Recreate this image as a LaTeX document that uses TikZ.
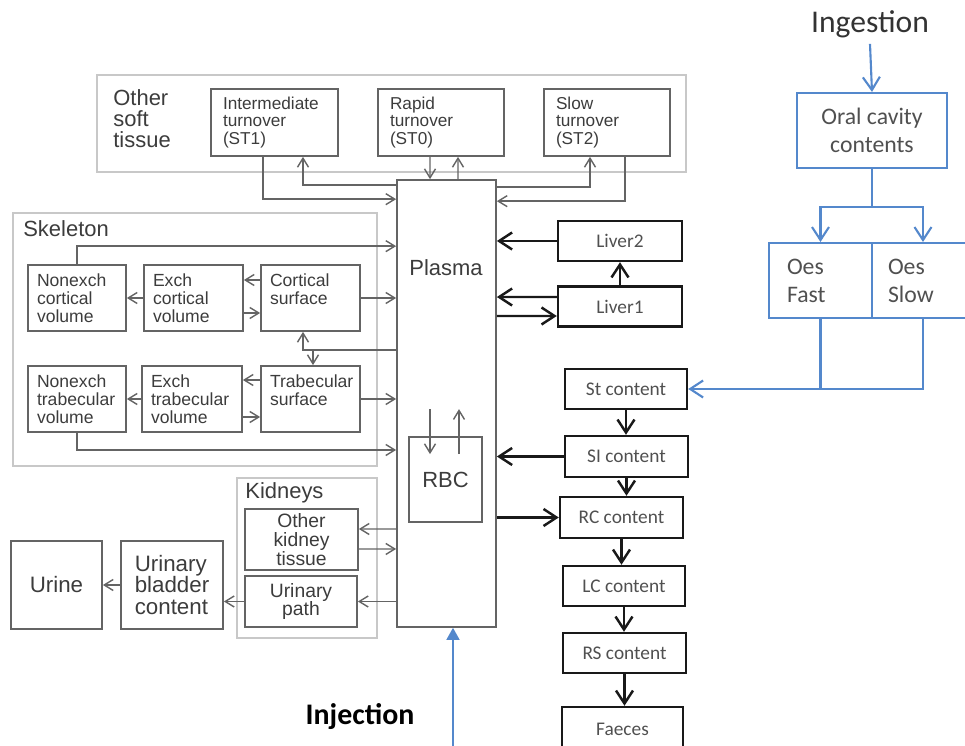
\documentclass[tikz,border=0pt]{standalone}
\usepackage{fontspec}
\setmainfont{Liberation Sans}
\newfontfamily\calibrifont{Carlito}
\usepackage{xcolor}
\usetikzlibrary{arrows.meta}

\definecolor{boxgray}{RGB}{100,100,100}
\definecolor{grpgray}{RGB}{200,200,200}
\definecolor{txtgray}{RGB}{60,60,60}
\definecolor{calgray}{RGB}{80,80,80}
\definecolor{oralblue}{RGB}{84,136,204}

\begin{document}
\begin{tikzpicture}[x=0.02cm, y=-0.02cm,
    lbox/.style={draw=boxgray, line width=1pt, text=txtgray, inner sep=0pt},
    ltext/.style={text=txtgray, inner sep=0pt, font=\fontsize{12.5}{12}\selectfont},
    stbox/.style={lbox, minimum height=1.34cm, inner xsep=0.24cm, align=left, font=\fontsize{9.8}{10}\selectfont},
    bonebox/.style={lbox, minimum height=1.32cm, inner xsep=0.18cm, align=left, font=\fontsize{10}{10.4}\selectfont},
    grp/.style={draw=grpgray, line width=1.2pt},
    grptitle/.style={ltext, anchor=west, align=left},
    kbox/.style={lbox, align=center, font=\fontsize{11}{10.8}\selectfont},
    ubox/.style={lbox, align=left, font=\fontsize{12.7}{12.5}\selectfont, minimum height=1.76cm},
    gbox/.style={draw=black!90, line width=1.4pt, text=calgray, minimum height=0.8cm,
      font=\calibrifont\fontsize{11}{13}\selectfont},
    obox/.style={draw=oralblue, line width=1.2pt, text=calgray, minimum height=1.5cm,
      font=\calibrifont\fontsize{13.5}{16}\selectfont},
    larr/.style={draw=boxgray, line width=0.8pt, -{Straight Barb[length=1.8mm, width=2.2mm]}},
    barr/.style={draw=black!90, line width=1.4pt, -{Straight Barb[length=2.6mm, width=3.4mm]}},
    bline/.style={draw=oralblue, line width=1.2pt},
    blarr/.style={bline, -{Straight Barb[length=2.6mm, width=3.4mm]}},
    injarr/.style={bline, line width=0.9pt, -{Triangle[length=2.4mm, width=2.6mm]}}
  ]
  \useasboundingbox (0,0) rectangle (965,746);
  \clip (0,0) rectangle (965,746);

  % Other soft tissue
  \draw[grp] (97,75) rectangle (686,172);
  \node[grptitle] (osttitle) at (113,119) {Other\\soft\\tissue};
  \node[stbox, text width=2.06cm] (st1) at (274.5,122.5) {Intermediate\\turnover\\(ST1)};
  \node[stbox, text width=2.04cm] (st0) at (441,122.5) {Rapid\\turnover\\(ST0)};
  \node[stbox, text width=2.04cm] (st2) at (607,122.5) {Slow\\turnover\\(ST2)};

  % Plasma and RBC
  \node[lbox, minimum width=1.98cm, minimum height=8.94cm] (plasma) at (446.5,403.5) {};
  \node[ltext] (plasmalbl) at (446,268) {Plasma};
  \node[lbox, minimum width=1.46cm, minimum height=1.7cm, font=\fontsize{12.5}{12}\selectfont] (rbc) at (445.5,479.5) {RBC};

  % Skeleton
  \draw[grp] (13,213) rectangle (377,466);
  \node[grptitle] (skeltitle) at (23,229) {Skeleton};
  \node[bonebox, text width=1.60cm] (ncv) at (77,298) {Nonexch\\cortical\\volume};
  \node[bonebox, text width=1.62cm] (ecv) at (193.5,298) {Exch\\cortical\\volume};
  \node[bonebox, text width=1.62cm] (cs) at (310.5,298) {Cortical\\surface\\\mbox{}};
  \node[bonebox, text width=1.60cm] (ntv) at (77,399) {Nonexch\\trabecular\\volume};
  \node[bonebox, text width=1.64cm] (etv) at (192,399) {Exch\\trabecular\\volume};
  \node[bonebox, text width=1.62cm] (ts) at (310.5,399) {Trabecular\\surface\\\mbox{}};
  \coordinate (bonejn) at (313,350);

  % Kidneys and urine
  \draw[grp] (237,478) rectangle (377,638);
  \node[grptitle] (kidtitle) at (245,493) {Kidneys};
  \node[kbox, minimum width=2.26cm, minimum height=1.22cm] (okt) at (301.5,539.5) {Other\\kidney\\tissue};
  \node[kbox, minimum width=2.24cm, minimum height=1.02cm] (up) at (301,601.5) {Urinary\\path};
  \node[ubox, minimum width=2.04cm] (ubc) at (172,585) {Urinary\\bladder\\content};
  \node[ubox, minimum width=1.82cm] (urine) at (56.5,585) {Urine};

  % Liver
  \node[gbox, minimum width=2.48cm] (liver2) at (620,241) {Liver2};
  \node[gbox, minimum width=2.48cm] (liver1) at (620,306.5) {Liver1};

  % GI tract
  \node[gbox, minimum width=2.44cm] (stc) at (626,389) {St content};
  \node[gbox, minimum width=2.46cm, minimum height=0.82cm] (sic) at (626.5,456.5) {SI content};
  \node[gbox, minimum width=2.46cm, minimum height=0.82cm] (rcc) at (621.5,517.5) {RC content};
  \node[gbox, minimum width=2.44cm] (lcc) at (624,586) {LC content};
  \node[gbox, minimum width=2.46cm] (rsc) at (624.5,653) {RS content};
  \node[gbox, minimum width=2.42cm, minimum height=0.9cm] (faeces) at (622.5,729.5) {Faeces};

  % Ingestion route
  \node[text=black!80, font=\calibrifont\fontsize{18}{20}\selectfont] (ingest) at (870,24) {Ingestion};
  \node[obox, minimum width=3cm, align=center] (oral) at (872,130.5) {Oral cavity\\contents};
  \node[obox, text width=1.34cm, inner xsep=0.36cm, align=left] (oesf) at (820.5,280.5) {Oes\\Fast};
  \node[obox, text width=1.4cm, inner xsep=0.32cm, align=left] (oess) at (923,280.5) {Oes\\Slow};
  \coordinate (oraljn) at (872,207);

  % Injection
  \node[text=black, font=\calibrifont\bfseries\fontsize{17}{20}\selectfont] (inject) at (360,717) {Injection};
  \coordinate (injsrc) at (453,752);

  % Soft tissue exchange
  \draw[larr] ([xshift=-0.23cm]st1.south) |- ([yshift=-0.4cm]plasma.north west);
  \draw[larr] ([yshift=-0.12cm]plasma.north west) -| ([xshift=0.57cm]st1.south);
  \draw[larr] ([xshift=-0.22cm]st0.south) -- ([xshift=-0.33cm]plasma.north);
  \draw[larr] ([xshift=0.23cm]plasma.north) -- ([xshift=0.34cm]st0.south);
  \draw[larr] ([yshift=-0.16cm]plasma.north east) -| ([xshift=-0.34cm]st2.south);
  \draw[larr] ([xshift=0.36cm]st2.south) |- ([yshift=-0.44cm]plasma.north east);

  % Plasma <-> RBC
  \draw[larr] ([xshift=-0.31cm, yshift=0.54cm]rbc.north) -- ([xshift=-0.31cm, yshift=-0.36cm]rbc.north);
  \draw[larr] ([xshift=0.27cm, yshift=-0.36cm]rbc.north) -- ([xshift=0.27cm, yshift=0.54cm]rbc.north);

  % Skeleton exchange
  \draw[larr] (ncv.north) |- ([yshift=-1.34cm]plasma.north west);
  \draw[larr] ([yshift=0.36cm]cs.west) -- ([yshift=0.36cm]ecv.east);
  \draw[larr] ([yshift=-0.3cm]ecv.east) -- ([yshift=-0.3cm]cs.west);
  \draw[larr] (ecv.west) -- (ncv.east);
  \draw[larr] (cs.east) -- (cs.east -| plasma.west);
  \draw[larr] ([yshift=0.38cm]ts.west) -- ([yshift=0.38cm]etv.east);
  \draw[larr] ([yshift=-0.36cm]etv.east) -- ([yshift=-0.36cm]ts.west);
  \draw[larr] (etv.west) -- (ntv.east);
  \draw[larr] (ts.east) -- (ts.east -| plasma.west);
  \draw[larr] (ntv.south) |- ([yshift=-0.93cm]plasma.west);
  \draw[larr] ([yshift=1.07cm]plasma.west) -| ([xshift=-0.15cm]cs.south);
  \draw[larr] (bonejn) -- (bonejn |- ts.north);

  % Kidney exchange
  \draw[larr] ([yshift=-2.51cm]plasma.west) -- ([yshift=0.21cm]okt.east);
  \draw[larr] ([yshift=-0.19cm]okt.east) -- ([yshift=-2.91cm]plasma.west);
  \draw[larr] (up.east -| plasma.west) -- (up.east);
  \draw[larr] (up.west) -- (up.west -| ubc.east);
  \draw[larr] (ubc.west) -- (urine.east);

  % Liver exchange
  \draw[barr] (liver2.west) -- (liver2.west -| plasma.east);
  \draw[barr] ([yshift=0.19cm]liver1.west) -- ([yshift=2.13cm]plasma.east);
  \draw[barr] ([yshift=1.75cm]plasma.east) -- ([yshift=-0.19cm]liver1.west);
  \draw[barr] (liver1.north) -- (liver2.south);

  % GI transfer
  \draw[barr] (stc.south) -- (stc.south |- sic.north);
  \draw[barr] (sic.south) -- (sic.south |- rcc.north);
  \draw[barr] (rcc.south) -- (rcc.south |- lcc.north);
  \draw[barr] (lcc.south) -- (lcc.south |- rsc.north);
  \draw[barr] (rsc.south) -- (rsc.south |- faeces.north);
  \draw[barr] (sic.west) -- (sic.west -| plasma.east);
  \draw[barr] (rcc.west -| plasma.east) -- (rcc.west);

  % Ingestion and injection inputs
  \draw[blarr] (ingest.south) -- (oral.north);
  \draw[bline] (oral.south) -- (oraljn);
  \draw[blarr] (oraljn) -| (oesf.north);
  \draw[blarr] (oraljn) -| (oess.north);
  \draw[blarr] (oess.south) |- (stc.east);
  \draw[bline] (oesf.south) -- (oesf.south |- stc.east);
  \draw[injarr] (injsrc) -- (injsrc |- plasma.south);
\end{tikzpicture}
\end{document}
